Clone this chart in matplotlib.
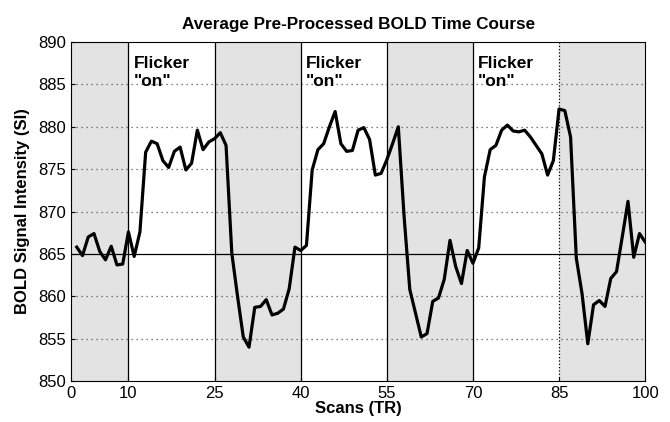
import numpy as np
import matplotlib
matplotlib.use('Agg')
from matplotlib import pyplot as plt

plt.rcParams['font.family'] = ['Liberation Sans', 'DejaVu Sans']

scans = np.arange(1, 101)
signal = [865.8, 864.8, 867.0, 867.4, 865.3, 864.3, 865.9, 863.7, 863.8, 867.6,
          864.7, 867.6, 877.0, 878.3, 878.0, 876.0, 875.2, 877.1, 877.6, 874.9,
          875.7, 879.6, 877.3, 878.2, 878.6, 879.3, 877.8, 865.1, 860.0, 855.2,
          854.0, 858.7, 858.8, 859.6, 857.8, 858.0, 858.5, 860.9, 865.8, 865.4,
          866.0, 874.9, 877.3, 878.0, 880.0, 881.8, 878.0, 877.1, 877.2, 879.6,
          879.9, 878.5, 874.3, 874.5, 876.1, 878.0, 880.0, 869.5, 860.8, 858.0,
          855.2, 855.6, 859.4, 859.8, 862.0, 866.6, 863.5, 861.5, 865.4, 863.9,
          865.7, 874.1, 877.3, 877.8, 879.6, 880.2, 879.5, 879.4, 879.6, 878.8,
          877.8, 876.8, 874.3, 876.0, 882.1, 881.9, 878.8, 864.5, 860.3, 854.4,
          859.0, 859.5, 858.8, 862.1, 862.9, 867.0, 871.2, 864.6, 867.4, 866.4]

off_blocks = [(0, 10), (25, 40), (55, 70), (85, 100)]
on_starts = [10, 40, 70]
boundaries = [10, 25, 40, 55, 70, 85]
xticks = [0, 10, 25, 40, 55, 70, 85, 100]
yticks = [850, 855, 860, 865, 870, 875, 880, 885, 890]
baseline = 865

fig = plt.figure(figsize=(6.7, 4.22), dpi=100)
ax = fig.add_axes([0.106, 0.097, 0.857, 0.8035])

# stimulus "off" blocks shaded grey
for a, b in off_blocks:
    ax.axvspan(a, b, color='#e3e3e3', lw=0, zorder=0)

for yv in yticks[1:-1]:
    if yv != baseline:
        ax.axhline(yv, color='#555555', ls=(0, (1, 3)), lw=0.9, zorder=1)

for b in boundaries:
    ax.axvline(b, color='black', lw=0.9, ls=':' if b == 85 else '-', zorder=2)
ax.axhline(baseline, color='black', lw=0.9, zorder=2)

ax.plot(scans, signal, color='black', lw=2.3, zorder=3)

for s in on_starts:
    ax.text(s + 0.9, 888.4, 'Flicker\n"on"', fontsize=12.5, fontweight='bold',
            va='top', ha='left', linespacing=1.3, zorder=4)

ax.set_xlim(0, 100)
ax.set_ylim(850, 890)
ax.set_xticks(xticks)
ax.set_yticks(yticks)
ax.tick_params(direction='in', length=3, labelsize=12)
ax.set_title('Average Pre-Processed BOLD Time Course', fontsize=12.3, fontweight='bold', pad=9)
ax.set_xlabel('Scans (TR)', fontsize=12, fontweight='bold', labelpad=0)
ax.set_ylabel('BOLD Signal Intensity (SI)', fontsize=12, fontweight='bold', labelpad=6)

plt.savefig('out.png', dpi=100)
